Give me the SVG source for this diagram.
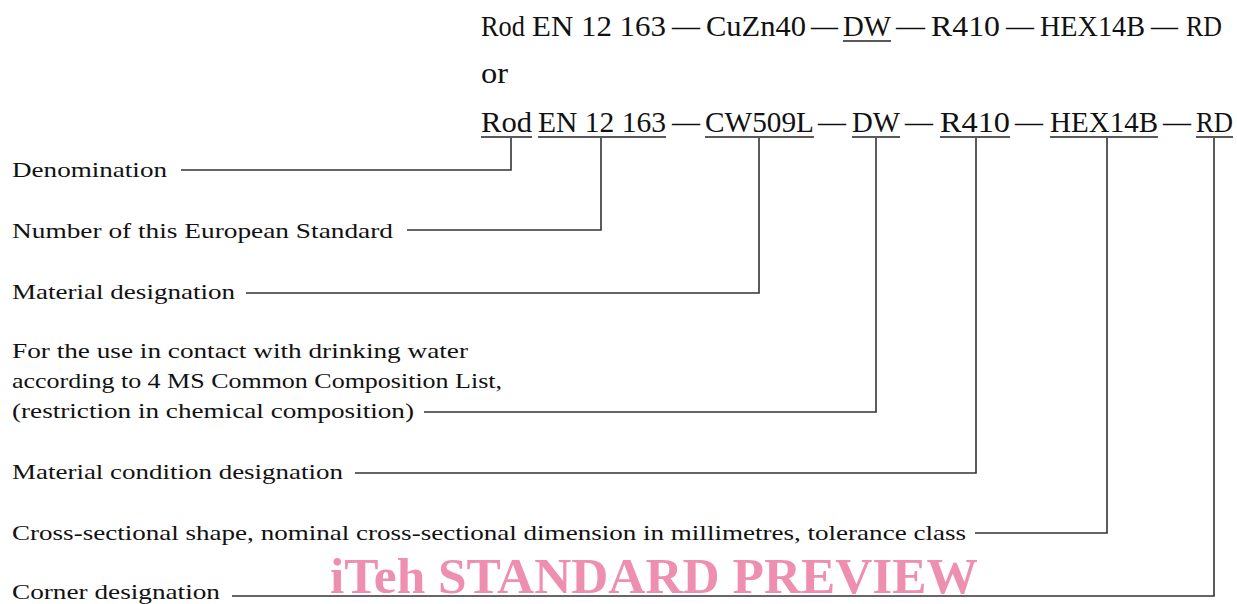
<svg xmlns="http://www.w3.org/2000/svg" width="1237" height="604" viewBox="0 0 1237 604">
<style>
.h{font-family:"Liberation Serif","DejaVu Serif",serif;font-size:29px;fill:#111}
.l{font-family:"Liberation Serif","DejaVu Serif",serif;font-size:21px;fill:#111}
.u{stroke:#222;stroke-width:1.6;fill:none}
.c{stroke:#333;stroke-width:1.6;fill:none}
.wm{font-family:"Liberation Serif","DejaVu Serif",serif;font-size:50px;font-weight:bold;fill:#ef8fb0}
</style>
<rect width="1237" height="604" fill="#fff"/>
<g id="header1">
<text class="h" x="481" y="36" textLength="44" lengthAdjust="spacingAndGlyphs">Rod</text>
<text class="h" x="532" y="36" textLength="134" lengthAdjust="spacingAndGlyphs">EN 12 163</text>
<text class="h" x="672" y="36" textLength="28" lengthAdjust="spacingAndGlyphs">—</text>
<text class="h" x="706" y="36" textLength="100" lengthAdjust="spacingAndGlyphs">CuZn40</text>
<text class="h" x="811" y="36" textLength="27" lengthAdjust="spacingAndGlyphs">—</text>
<text class="h" x="843" y="36" textLength="48" lengthAdjust="spacingAndGlyphs">DW</text>
<line class="u" x1="843" y1="41" x2="891" y2="41"/>
<text class="h" x="896" y="36" textLength="29" lengthAdjust="spacingAndGlyphs">—</text>
<text class="h" x="931" y="36" textLength="69" lengthAdjust="spacingAndGlyphs">R410</text>
<text class="h" x="1006" y="36" textLength="28" lengthAdjust="spacingAndGlyphs">—</text>
<text class="h" x="1040" y="36" textLength="105" lengthAdjust="spacingAndGlyphs">HEX14B</text>
<text class="h" x="1151" y="36" textLength="27" lengthAdjust="spacingAndGlyphs">—</text>
<text class="h" x="1186" y="36" textLength="36" lengthAdjust="spacingAndGlyphs">RD</text>
</g>
<g id="or"><text class="h" x="481" y="83" textLength="27" lengthAdjust="spacingAndGlyphs">or</text></g>
<g id="header2">
<text class="h" x="481" y="132" textLength="51" lengthAdjust="spacingAndGlyphs">Rod</text>
<line class="u" x1="481" y1="137" x2="532" y2="137"/>
<text class="h" x="538" y="132" textLength="128" lengthAdjust="spacingAndGlyphs">EN 12 163</text>
<line class="u" x1="538" y1="137" x2="666" y2="137"/>
<text class="h" x="672" y="132" textLength="28" lengthAdjust="spacingAndGlyphs">—</text>
<text class="h" x="705" y="132" textLength="109" lengthAdjust="spacingAndGlyphs">CW509L</text>
<line class="u" x1="705" y1="137" x2="814" y2="137"/>
<text class="h" x="818" y="132" textLength="28" lengthAdjust="spacingAndGlyphs">—</text>
<text class="h" x="852" y="132" textLength="48" lengthAdjust="spacingAndGlyphs">DW</text>
<line class="u" x1="852" y1="137" x2="900" y2="137"/>
<text class="h" x="905" y="132" textLength="28" lengthAdjust="spacingAndGlyphs">—</text>
<text class="h" x="940" y="132" textLength="70" lengthAdjust="spacingAndGlyphs">R410</text>
<line class="u" x1="940" y1="137" x2="1010" y2="137"/>
<text class="h" x="1015" y="132" textLength="28" lengthAdjust="spacingAndGlyphs">—</text>
<text class="h" x="1050" y="132" textLength="108" lengthAdjust="spacingAndGlyphs">HEX14B</text>
<line class="u" x1="1050" y1="137" x2="1158" y2="137"/>
<text class="h" x="1163" y="132" textLength="28" lengthAdjust="spacingAndGlyphs">—</text>
<text class="h" x="1196" y="132" textLength="37" lengthAdjust="spacingAndGlyphs">RD</text>
<line class="u" x1="1196" y1="137" x2="1233" y2="137"/>
</g>
<g id="connectors">
<polyline class="c" points="511,138 511,170 181,170"/>
<polyline class="c" points="601,138 601,230 407,230"/>
<polyline class="c" points="759,138 759,293 246,293"/>
<polyline class="c" points="876,138 876,412 424,412"/>
<polyline class="c" points="976,138 976,473 355,473"/>
<polyline class="c" points="1107,138 1107,533 975,533"/>
<polyline class="c" points="1214,138 1214,596 232,596"/>
</g>
<g id="denomination"><text class="l" x="12" y="177" textLength="155" lengthAdjust="spacingAndGlyphs">Denomination</text></g>
<g id="number"><text class="l" x="12" y="238" textLength="381" lengthAdjust="spacingAndGlyphs">Number of this European Standard</text></g>
<g id="material"><text class="l" x="12" y="299" textLength="223" lengthAdjust="spacingAndGlyphs">Material designation</text></g>
<g id="drinking">
<text class="l" x="12" y="358" textLength="456" lengthAdjust="spacingAndGlyphs">For the use in contact with  drinking water</text>
<text class="l" x="12" y="388" textLength="490" lengthAdjust="spacingAndGlyphs">according to 4 MS Common Composition List,</text>
<text class="l" x="12" y="418" textLength="402" lengthAdjust="spacingAndGlyphs">(restriction in chemical composition)</text>
</g>
<g id="condition"><text class="l" x="12" y="479" textLength="331" lengthAdjust="spacingAndGlyphs">Material condition designation</text></g>
<g id="shape"><text class="l" x="12" y="540" textLength="954" lengthAdjust="spacingAndGlyphs">Cross-sectional shape, nominal cross-sectional dimension in millimetres, tolerance class</text></g>
<g id="corner"><text class="l" x="12" y="599" textLength="208" lengthAdjust="spacingAndGlyphs">Corner designation</text></g>
<text class="wm" x="330" y="593" textLength="648" lengthAdjust="spacingAndGlyphs">iTeh STANDARD PREVIEW</text>
</svg>
